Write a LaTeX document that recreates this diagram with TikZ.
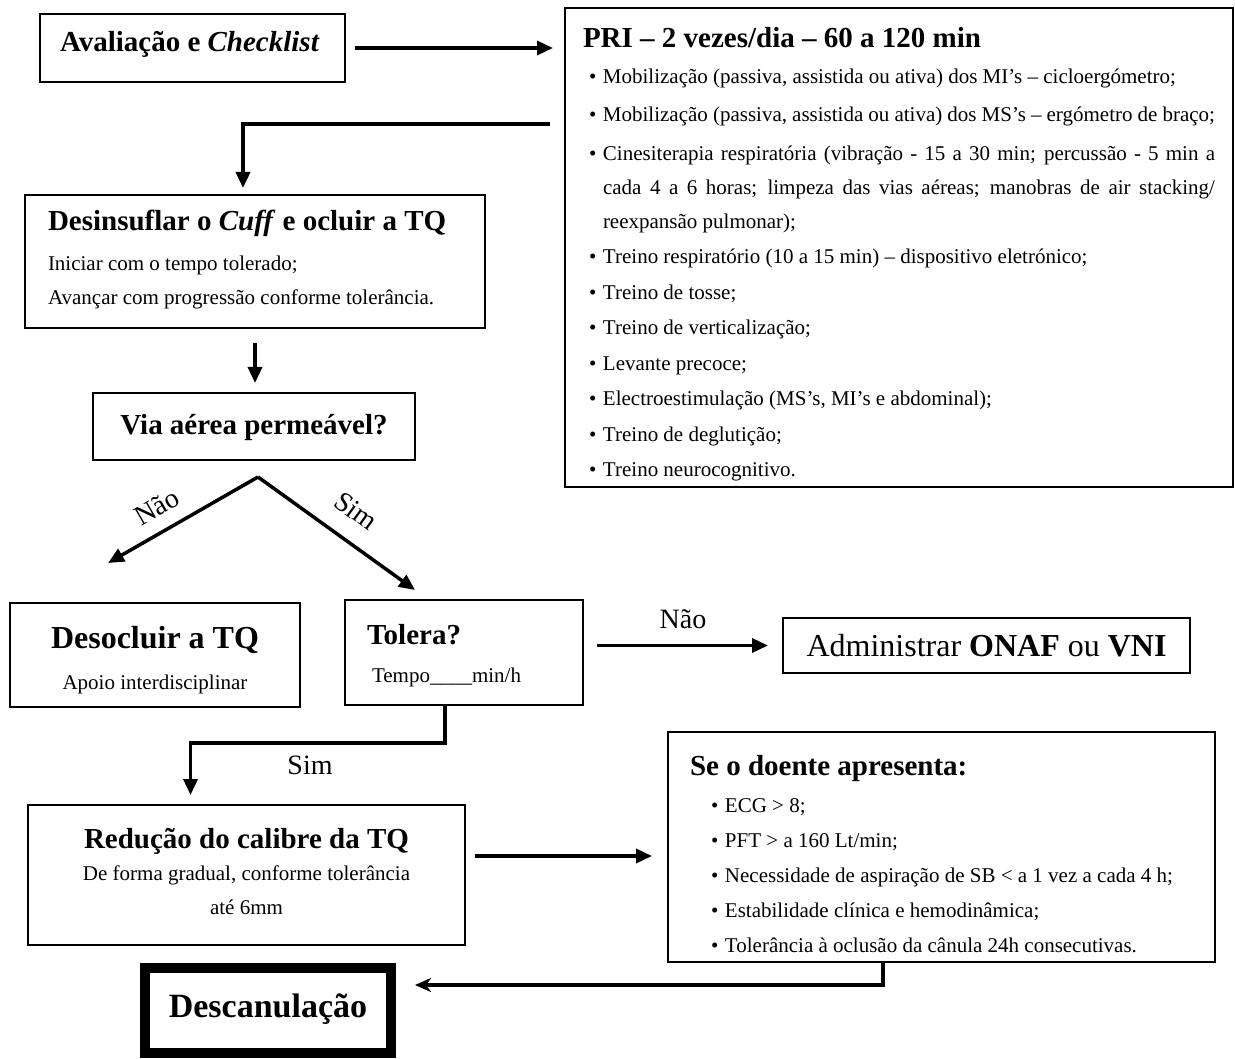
\documentclass[tikz,border=0pt]{standalone}
\usepackage{fontspec}
\setmainfont{Liberation Serif}
\usepackage{tikz}
\usetikzlibrary{arrows.meta}
\usetikzlibrary{positioning}

\newcommand\fsz[1]{\fontsize{#1}{34}\selectfont\spaceskip=\fontdimen2\font\xspaceskip=\fontdimen2\font\relax}
\newcommand\bodyfs{\fsz{21}}
\newcommand\headfs{\fsz{29}\bfseries}
\newcommand\bul[1]{\par\hangindent=\dimexpr#1+14pt\relax\hangafter=1\noindent\hspace*{#1}\makebox[14pt][l]{\textbullet}}

\begin{document}
\begin{tikzpicture}[x=1pt, y=-1pt,
box/.style={draw, line width=1.8pt, anchor=north west, outer sep=0pt, inner ysep=0pt},
arr/.style={line width=3.5pt, -{Triangle[length=16pt, width=14pt]}},
lbl/.style={font=\fsz{28}, inner sep=0pt}]
\useasboundingbox (0,0) rectangle (1235,1059);

\node[box, inner xsep=20pt, text width=265pt, text height=38pt, text depth=30pt, align=left] (aval) at (40,14)
{\headfs Avaliação e \textit{Checklist}\par};
\node[box, inner xsep=18pt, text width=632pt, text height=40pt, text depth=439pt, align=justify] (pri) at (565,8)
{\bodyfs\spaceskip=0pt\xspaceskip=0pt\setlength\parskip{1.5pt}{\headfs PRI – 2 vezes/dia – 60 a 120 min}
\bul{6pt}Mobilização (passiva, assistida ou ativa) dos MI’s – cicloergómetro;
\par\vspace{3pt}\bul{6pt}Mobilização (passiva, assistida ou ativa) dos MS’s – ergómetro de braço;
\par\vspace{3pt}\bul{6pt}Cinesiterapia respiratória (vibração - 15 a 30 min; percussão - 5 min a\linebreak cada 4 a 6 horas; limpeza das vias aéreas; manobras de air stacking/\linebreak reexpansão pulmonar);
\bul{6pt}Treino respiratório (10 a 15 min) – dispositivo eletrónico;
\bul{6pt}Treino de tosse;
\bul{6pt}Treino de verticalização;
\bul{6pt}Levante precoce;
\bul{6pt}Electroestimulação (MS’s, MI’s e abdominal);
\bul{6pt}Treino de deglutição;
\bul{6pt}Treino neurocognitivo.\par};
\node[box, inner xsep=23pt, text width=414pt, text height=36pt, text depth=97pt, align=left] (desin) at (25,195)
{\bodyfs{\headfs Desinsuflar o \textit{Cuff} e ocluir a TQ}\\[6pt]Iniciar com o tempo tolerado;\\Avançar com progressão conforme tolerância.\par};
\node[box, inner xsep=11pt, text width=300pt, text height=42pt, text depth=25pt, align=center] (via) at (93,393)
{\headfs Via aérea permeável?\par};
\node[box, inner xsep=10pt, text width=270pt, text height=45pt, text depth=59pt, align=center] (desoc) at (10,603)
{\bodyfs{\fsz{32}\bfseries Desocluir a TQ}\\[7pt]Apoio interdisciplinar\par};
\node[box, inner xsep=22pt, text width=194pt, text height=44pt, text depth=61pt, align=left] (tolera) at (345,600)
{\bodyfs{\headfs Tolera?}\\[4pt]\hspace*{5pt}Tempo\_\_\_\_min/h\par};
\node[box, inner xsep=10pt, text width=387pt, text height=38pt, text depth=17pt, align=center] (admin) at (783,618)
{\fsz{32}Administrar \textbf{ONAF} ou \textbf{VNI}\par};
\node[box, inner xsep=10pt, text width=417pt, text height=43pt, text depth=97pt, align=center] (reducao) at (28,805)
{\bodyfs{\headfs Redução do calibre da TQ}\\[-2pt]De forma gradual, conforme tolerância\\até 6mm\par};
\node[box, inner xsep=22pt, text width=503pt, text height=43pt, text depth=187pt, align=left] (seo) at (668,732)
{\bodyfs\setlength\parskip{1pt}{\headfs Se o doente apresenta:}\par\vspace{2pt}
\bul{21pt}ECG > 8;
\bul{21pt}PFT > a 160 Lt/min;
\bul{21pt}Necessidade de aspiração de SB < a 1 vez a cada 4 h;
\bul{21pt}Estabilidade clínica e hemodinâmica;
\bul{21pt}Tolerância à oclusão da cânula 24h consecutivas.\par};
\node[box, line width=10pt, inner xsep=0pt, text width=246pt, text height=49pt, text depth=36pt, align=center] (desc) at (145,968)
{\fsz{34}\bfseries Descanulação\par};

\draw[arr, shorten <=10pt, shorten >=12pt] (aval.east) -- (aval.east -| pri.west);
\coordinate (pleft) at (550,124);
\draw[arr, shorten >=7pt] (pleft) -| ([xshift=-12pt]desin.north);
\draw[arr, shorten <=15pt, shorten >=10pt] (desin.south) -- (desin.south |- via.north);
\coordinate (fork) at ([xshift=4pt, yshift=-17pt]via.south);
\coordinate (naotip) at ([xshift=-47pt, yshift=40pt]desoc.north);
\coordinate (simtip) at ([xshift=-49pt, yshift=10pt]tolera.north);
\draw[arr] (fork) -- (naotip);
\draw[arr] (fork) -- (simtip);
\node[lbl, rotate=30] (nao1) at (157,507) {Não};
\node[lbl, rotate=-36] (sim1) at (356,511) {Sim};
\draw[arr, shorten <=14pt, shorten >=15pt] (admin.west -| tolera.east) -- (admin.west) node[lbl, midway, above=15pt] (nao2) {Não};
\draw[arr, shorten >=10pt] ([xshift=-19pt]tolera.south) -- ++(0,38) -| ([xshift=-56pt]reducao.north);
\node[lbl] (sim2) at (310,765) {Sim};
\coordinate (rs) at ([yshift=19pt]reducao.east);
\draw[arr, shorten <=10pt, shorten >=16pt] (rs) -- (rs -| seo.west);
\coordinate (sd) at (883,985);
\draw[line width=3.5pt, -{Stealth[length=16pt, width=14pt, inset=5pt]}, shorten >=24pt] (seo.south -| sd) -- (sd) -- (sd -| desc.east);
\end{tikzpicture}
\end{document}
